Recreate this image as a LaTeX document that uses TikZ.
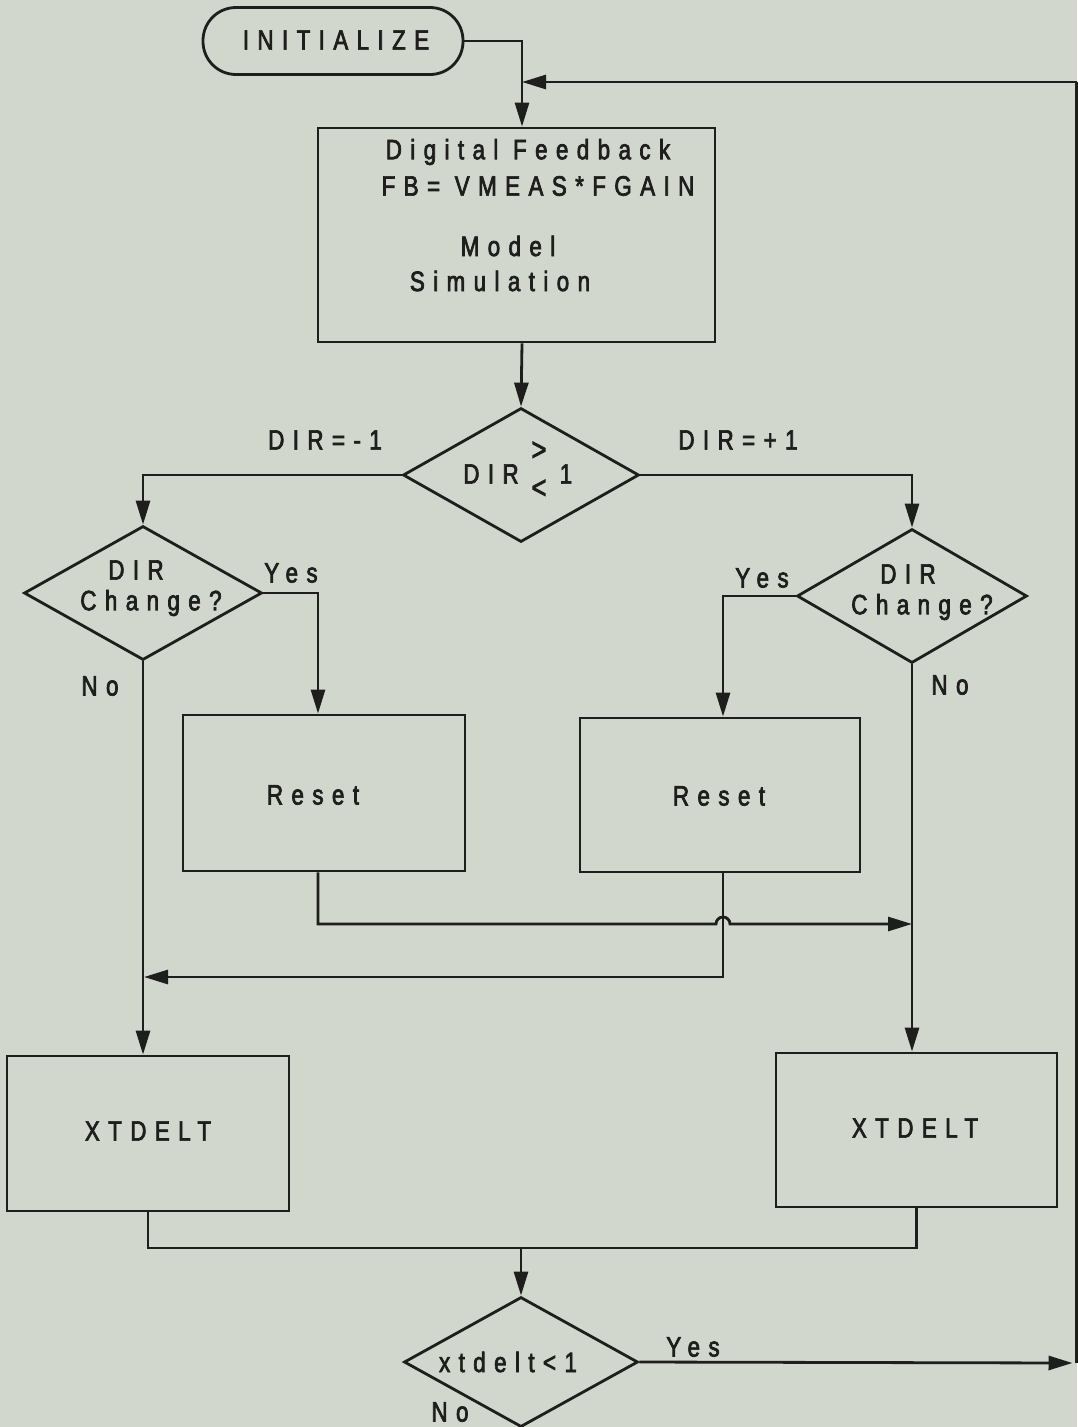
\documentclass[tikz,border=0pt]{standalone}
\usepackage{fontspec}
\setmainfont{Liberation Sans}
\newfontfamily\lbl[LetterSpace=30,FakeStretch=0.8,FakeBold=2.5]{Liberation Sans}
\usetikzlibrary{shapes.geometric,arrows.meta,calc}

\definecolor{paper}{RGB}{209,215,205}
\definecolor{ink}{RGB}{30,30,28}

\begin{document}
\begin{tikzpicture}[x=1pt,y=-1pt,line width=2.8pt,
  every node/.style={font=\lbl\fontsize{28}{33}\selectfont,text=ink},
  box/.style={draw=ink,rectangle,inner sep=0pt},
  decision/.style={draw=ink,diamond,inner sep=0pt},
  txt/.style={inner sep=0pt},
  relsign/.style={inner sep=0pt,font=\lbl\fontsize{32}{36}\selectfont},
  link/.style={draw=ink},
  flow/.style={draw=ink,-{Triangle[length=24pt,width=14pt]}}]

% sheet
\fill[paper] (0,0) rectangle (1077,1427);
\useasboundingbox (0,0) rectangle (1077,1427);

% start terminal and main block
\node[box,rounded corners=33pt,minimum width=260pt,minimum height=67pt] (init) at (333,41) {};
\node[txt] (initt) at (336,40) {INITIALIZE};
\node[box,minimum width=397pt,minimum height=214pt] (fb) at (516.5,235) {};
\node[txt] (fbA) at (528,152) {Digital Feedback};
\node[txt] (fbB) at (538,186) {FB= VMEAS*FGAIN};
\node[txt] (fbC) at (508,246) {Model};
\node[txt] (fbD) at (500,281) {Simulation};

% direction test
\node[decision,minimum width=236pt,minimum height=134pt] (dir) at (521,475) {};
\node[txt] (dirtxt) at (491,474) {DIR};
\node[relsign] (dirgt) at (539,451) {>};
\node[relsign] (dirlt) at (539,489) {<};
\node[txt] (dirone) at (566,474) {1};
\node[txt] (lm) at (325,440) {DIR=-1};
\node[txt] (lp) at (738,440) {DIR=+1};

% direction change tests
\node[decision,minimum width=238pt,minimum height=134pt] (cdL) at (143,593) {};
\node[txt] (cdLa) at (136,570) {DIR};
\node[txt] (cdLb) at (151,603) {Change?};
\node[txt] (yesL) at (291,573) {Yes};
\node[txt] (noL) at (100,686) {No};

\node[decision,minimum width=230pt,minimum height=134pt] (cdR) at (912,596) {};
\node[txt] (cdRa) at (908,574) {DIR};
\node[txt] (cdRb) at (922,607) {Change?};
\node[txt] (yesR) at (762,578) {Yes};
\node[txt] (noR) at (950,685) {No};

% reset blocks
\node[box,minimum width=282pt,minimum height=156pt] (rsL) at (324,793) {};
\node[txt] (rsLt) at (313,795) {Reset};
\node[box,minimum width=280pt,minimum height=154pt] (rsR) at (720,795) {};
\node[txt] (rsRt) at (719,796) {Reset};

% step blocks
\node[box,minimum width=282pt,minimum height=155pt] (xdL) at (148,1133.5) {};
\node[txt] (xdLt) at (148,1131) {XTDELT};
\node[box,minimum width=281pt,minimum height=154pt] (xdR) at (916.5,1130) {};
\node[txt] (xdRt) at (915,1128) {XTDELT};

% final test
\node[decision,minimum width=234pt,minimum height=130pt] (dec) at (521,1362) {};
\node[txt] (dect) at (508,1362) {xtdelt<1};
\node[txt] (yesB) at (693,1347) {Yes};
\node[txt] (noB) at (450,1412) {No};

% junction points
\coordinate (jtop) at (522,82);
\coordinate (jR) at (912,924);
\coordinate (jL) at (144,977);
\coordinate (jB) at (521,1248);
\coordinate (rb) at (1076.5,1363);
\coordinate (rt) at (1076.5,82);

% connectors
\draw[link] (init.east) -| (jtop);
\draw[flow] (jtop) -- (jtop |- fb.north);
\draw[flow] (jtop |- fb.south) -- (dir.north);
\draw[flow] (dir.west) -| (cdL.north);
\draw[flow] (dir.east) -| (cdR.north);
\draw[flow] (cdL.east) -| ([xshift=-6pt]rsL.north);
\draw[flow] (cdR.west) -| ([xshift=3pt]rsR.north);
\draw[flow] (cdL.south) -- (cdL.south |- xdL.north);
\draw[flow] (cdR.south) -- (cdR.south |- xdR.north);
% reset returns, one hopping over the other
\draw[flow] ([xshift=-6pt]rsL.south) |- ($([xshift=3pt]rsR.south |- jR)+(-7,0)$)
  arc[start angle=180,end angle=0,radius=7pt] -- (jR);
\draw[flow] ([xshift=3pt]rsR.south) |- (jL);
\draw[link] (xdL.south) |- (jB);
\draw[link] (xdR.south) |- (jB);
\draw[flow] (jB) -- (dec.north);
\draw[flow] (dec.east) -- ([xshift=-4pt]rb);
\draw[link] (rb) -- (rt);
\draw[flow] (rt) -- (jtop);
\end{tikzpicture}
\end{document}
